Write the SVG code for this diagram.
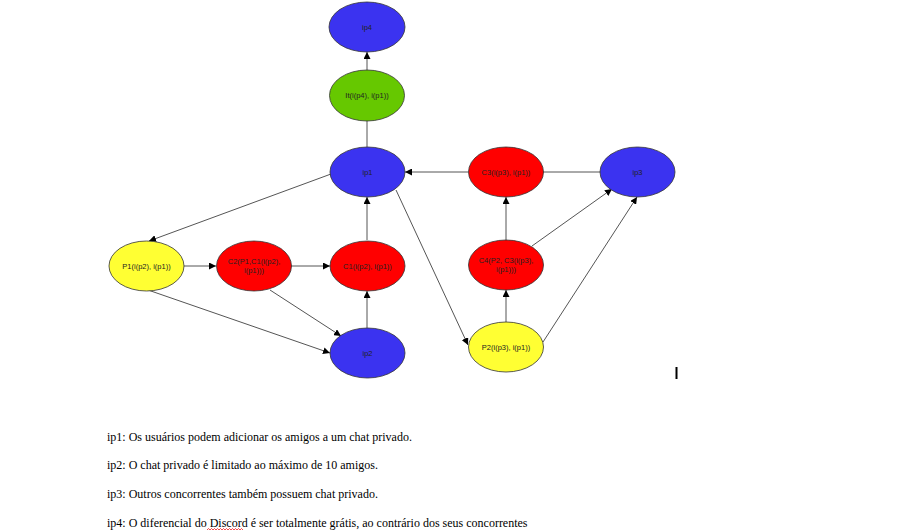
<svg xmlns="http://www.w3.org/2000/svg" width="908" height="532" viewBox="0 0 908 532">
<style>
.n{stroke:#333;stroke-width:0.8}
.blue{fill:#3b33f0}
.red{fill:#ff0000}
.yel{fill:#ffff33}
.grn{fill:#66c800}
.lbl{font-family:"Liberation Sans",Arial,sans-serif;font-size:7.5px;fill:#222;text-anchor:middle}
.e{stroke:#555;stroke-width:1;fill:none}
.a{marker-end:url(#ah)}
.t{font-family:"Liberation Serif","Times New Roman",serif;font-size:12px;fill:#000}
</style>
<defs>
<marker id="ah" viewBox="0 0 10 10" refX="10" refY="5" markerWidth="7" markerHeight="7" markerUnits="userSpaceOnUse" orient="auto">
<path d="M0,0 L10,5 L0,10 z" fill="#000"/>
</marker>
</defs>
<rect width="908" height="532" fill="#fff"/>
<g id="connectors">
<line class="e a" x1="367" y1="70" x2="367" y2="52"/>
<line class="e" x1="367" y1="147" x2="367" y2="121"/>
<line class="e a" x1="331" y1="174" x2="149" y2="241"/>
<line class="e a" x1="184" y1="266" x2="216" y2="266"/>
<line class="e a" x1="291" y1="266" x2="330" y2="266"/>
<line class="e a" x1="367" y1="240" x2="367" y2="197"/>
<line class="e a" x1="367" y1="328" x2="367" y2="291"/>
<line class="e a" x1="148" y1="290" x2="330" y2="353"/>
<line class="e a" x1="270" y1="290" x2="341" y2="336"/>
<line class="e a" x1="396" y1="190" x2="468" y2="345"/>
<line class="e a" x1="468" y1="172" x2="405" y2="172"/>
<line class="e" x1="543" y1="172" x2="600" y2="172"/>
<line class="e a" x1="506" y1="240" x2="506" y2="197"/>
<line class="e a" x1="506" y1="322" x2="506" y2="290"/>
<line class="e a" x1="532" y1="246" x2="612" y2="189"/>
<line class="e a" x1="543" y1="342" x2="637" y2="197"/>
</g>
<g id="ip4"><ellipse class="n blue" cx="367" cy="27" rx="38" ry="25"/><text class="lbl" x="367" y="29.5">ip4</text></g>
<g id="It"><ellipse class="n grn" cx="367" cy="95.5" rx="37.5" ry="25.5"/><text class="lbl" x="367" y="98">It(i(p4), i(p1))</text></g>
<g id="ip1"><ellipse class="n blue" cx="367.5" cy="172" rx="37.5" ry="25"/><text class="lbl" x="367.5" y="174.5">ip1</text></g>
<g id="C3"><ellipse class="n red" cx="506" cy="172" rx="37.5" ry="25"/><text class="lbl" x="506" y="174.5">C3(i(p3), i(p1))</text></g>
<g id="ip3"><ellipse class="n blue" cx="637.5" cy="172" rx="37.5" ry="25"/><text class="lbl" x="637.5" y="174.5">ip3</text></g>
<g id="P1"><ellipse class="n yel" cx="146.5" cy="266" rx="37.5" ry="25"/><text class="lbl" x="146.5" y="268.5">P1(i(p2), i(p1))</text></g>
<g id="C2"><ellipse class="n red" cx="254" cy="266" rx="37.5" ry="25"/><text class="lbl" x="254" y="264">C2(P1,C1(i(p2),</text><text class="lbl" x="254" y="273">i(p1)))</text></g>
<g id="C1"><ellipse class="n red" cx="367.5" cy="266" rx="37.5" ry="25"/><text class="lbl" x="367.5" y="268.5">C1(i(p2), i(p1))</text></g>
<g id="C4"><ellipse class="n red" cx="506" cy="265" rx="37.5" ry="25"/><text class="lbl" x="506" y="263">C4(P2, C3(i(p3),</text><text class="lbl" x="506" y="272">i(p1)))</text></g>
<g id="ip2"><ellipse class="n blue" cx="367.5" cy="353" rx="37.5" ry="25"/><text class="lbl" x="367.5" y="355.5">ip2</text></g>
<g id="P2"><ellipse class="n yel" cx="506" cy="347" rx="37.5" ry="25"/><text class="lbl" x="506" y="349.5">P2(i(p3), i(p1))</text></g>
<rect x="675.5" y="367" width="2" height="12" fill="#000"/>
<g id="legend">
<text class="t" x="107" y="441">ip1: Os usuários podem adicionar os amigos a um chat privado.</text>
<text class="t" x="107" y="469">ip2: O chat privado é limitado ao máximo de 10 amigos.</text>
<text class="t" x="107" y="498">ip3: Outros concorrentes também possuem chat privado.</text>
<text class="t" x="107" y="527">ip4: O diferencial do Discord é ser totalmente grátis, ao contrário dos seus concorrentes</text>
<path d="M207,530 l1.5,-1.5 l1.5,1.5 l1.5,-1.5 l1.5,1.5 l1.5,-1.5 l1.5,1.5 l1.5,-1.5 l1.5,1.5 l1.5,-1.5 l1.5,1.5 l1.5,-1.5 l1.5,1.5 l1.5,-1.5 l1.5,1.5 l1.5,-1.5 l1.5,1.5 l1.5,-1.5 l1.5,1.5 l1.5,-1.5 l1.5,1.5 l1.5,-1.5 l1.5,1.5 l1.5,-1.5 l1.5,1.5" fill="none" stroke="#e00" stroke-width="0.7"/>
</g>
</svg>
